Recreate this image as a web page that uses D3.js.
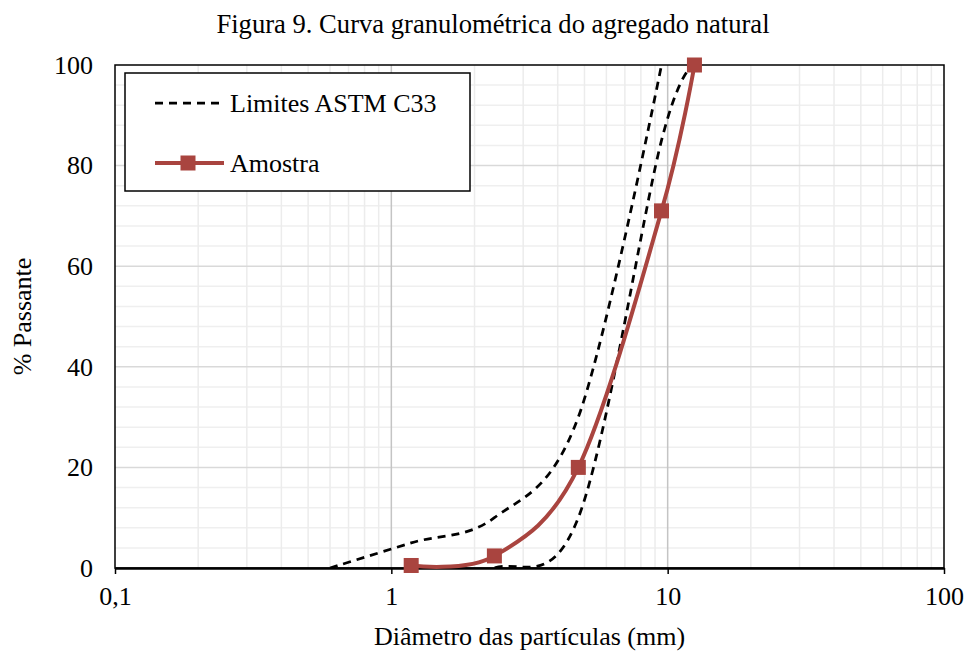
<!DOCTYPE html>
<html>
<head>
<meta charset="utf-8">
<script src="https://cdn.jsdelivr.net/npm/d3@7"></script>
<style>
  body { margin: 0; background: #fff; }
  text { font-family: "Liberation Serif", "Times New Roman", serif; }
</style>
</head>
<body>
<div id="chart"></div>
<script>
// sieve openings (mm) and % passing
const sample_sizes = [1.18, 2.36, 4.75, 9.5, 12.5]
const sample_values = [0.5, 2.4, 20, 71, 100]

// ASTM C33 limits (size no. 8)
const upper_sizes = [0.6, 1.18, 2.36, 4.75, 9.5]
const upper_values = [0, 5, 10, 30, 100]
const lower_sizes = [1.18, 2.36, 4.75, 9.5, 12.5]
const lower_values = [0, 0, 10, 85, 100]

const x_ticks = [0.1, 1, 10, 100]
const x_tick_labels = ['0,1', '1', '10', '100']
const y_ticks = [0, 20, 40, 60, 80, 100]

const chart_width = 966
const chart_height = 653
const p_left = 115, p_right = 944, p_top = 65, p_bottom = 568
const red = '#a9443f'
const font_size = 26
const marker = 15

const svg = d3.select('#chart')
    .append('svg')
    .attr('width', chart_width)
    .attr('height', chart_height)

svg.append('clipPath').attr('id', 'plot-clip')
    .append('rect')
    .attr('x', p_left).attr('y', p_top - 10)
    .attr('width', p_right - p_left).attr('height', p_bottom - p_top + 10)

const x_scale = d3.scaleLog().domain([0.1, 100]).range([p_left, p_right])
const y_scale = d3.scaleLinear().domain([0, 100]).range([p_bottom, p_top])

// grid - minor first
const minor_x = []
for (let d = 0.1; d < 100; d *= 10) {
    for (let k = 2; k <= 9; k++) minor_x.push(d * k)
}
svg.append('g').selectAll('line')
    .data(d3.range(4, 100, 4).filter(v => v % 20 !== 0))
    .enter().append('line')
    .attr('x1', p_left).attr('x2', p_right)
    .attr('y1', d => y_scale(d)).attr('y2', d => y_scale(d))
    .attr('stroke', '#efefef').attr('stroke-width', 1.5)
svg.append('g').selectAll('line')
    .data(minor_x)
    .enter().append('line')
    .attr('x1', d => x_scale(d)).attr('x2', d => x_scale(d))
    .attr('y1', p_top).attr('y2', p_bottom)
    .attr('stroke', '#ececec').attr('stroke-width', 1.5)
svg.append('g').selectAll('line')
    .data([20, 40, 60, 80])
    .enter().append('line')
    .attr('x1', p_left).attr('x2', p_right)
    .attr('y1', d => y_scale(d)).attr('y2', d => y_scale(d))
    .attr('stroke', '#d9d9d9').attr('stroke-width', 1.5)
svg.append('g').selectAll('line')
    .data([1, 10])
    .enter().append('line')
    .attr('x1', d => x_scale(d)).attr('x2', d => x_scale(d))
    .attr('y1', p_top).attr('y2', p_bottom)
    .attr('stroke', '#c4c4c4').attr('stroke-width', 1.5)

// plot border
svg.append('rect')
    .attr('x', p_left).attr('y', p_top)
    .attr('width', p_right - p_left).attr('height', p_bottom - p_top)
    .attr('fill', 'none').attr('stroke', '#000').attr('stroke-width', 1.5)

// lines
const line = d3.line()
    .x(d => x_scale(d[0]))
    .y(d => y_scale(d[1]))
    .curve(d3.curveCatmullRom.alpha(0))

const series = svg.append('g').attr('clip-path', 'url(#plot-clip)')
series.append('path')
    .datum(d3.zip(upper_sizes, upper_values))
    .attr('d', line)
    .attr('fill', 'none').attr('stroke', '#000')
    .attr('stroke-width', 2.75).attr('stroke-dasharray', '8,6')
series.append('path')
    .datum(d3.zip(lower_sizes, lower_values))
    .attr('d', line)
    .attr('fill', 'none').attr('stroke', '#000')
    .attr('stroke-width', 2.75).attr('stroke-dasharray', '8,6')

// axes
const x_axis = d3.axisBottom(x_scale)
    .tickValues(x_ticks)
    .tickFormat((d, i) => x_tick_labels[i])
    .tickSizeInner(6).tickSizeOuter(0).tickPadding(13)
const gx = svg.append('g')
    .attr('transform', 'translate(0,' + p_bottom + ')')
    .call(x_axis)
gx.select('.domain').attr('stroke', '#000').attr('stroke-width', 2.5)
gx.selectAll('.tick line').attr('stroke', '#000').attr('stroke-width', 1.5)
gx.selectAll('text').attr('font-size', font_size).attr('fill', '#000')

const y_axis = d3.axisLeft(y_scale)
    .tickValues(y_ticks)
    .tickSize(0).tickPadding(22)
const gy = svg.append('g')
    .attr('transform', 'translate(' + p_left + ',0)')
    .call(y_axis)
gy.select('.domain').remove()
gy.selectAll('text').attr('font-size', font_size).attr('fill', '#000')

const sample = d3.zip(sample_sizes, sample_values)
svg.append('path')
    .datum(sample)
    .attr('d', line)
    .attr('fill', 'none').attr('stroke', red)
    .attr('stroke-width', 4)
svg.append('g').selectAll('rect')
    .data(sample)
    .enter().append('rect')
    .attr('x', d => x_scale(d[0]) - marker / 2)
    .attr('y', d => y_scale(d[1]) - marker / 2)
    .attr('width', marker).attr('height', marker)
    .attr('fill', red)

// legend
const legend = svg.append('g')
legend.append('rect')
    .attr('x', 125).attr('y', 73).attr('width', 345).attr('height', 118)
    .attr('fill', '#fff').attr('stroke', '#000').attr('stroke-width', 1.5)
legend.append('line')
    .attr('x1', 155).attr('x2', 220).attr('y1', 103).attr('y2', 103)
    .attr('stroke', '#000').attr('stroke-width', 2.75).attr('stroke-dasharray', '8,6')
legend.append('text')
    .attr('x', 230).attr('y', 112).attr('font-size', font_size).text('Limites ASTM C33')
legend.append('line')
    .attr('x1', 155).attr('x2', 224).attr('y1', 163).attr('y2', 163)
    .attr('stroke', red).attr('stroke-width', 4)
legend.append('rect')
    .attr('x', 188 - marker / 2).attr('y', 163 - marker / 2)
    .attr('width', marker).attr('height', marker)
    .attr('fill', red)
legend.append('text')
    .attr('x', 230).attr('y', 172).attr('font-size', font_size).text('Amostra')

// titles
svg.append('text')
    .attr('x', 493).attr('y', 33).attr('text-anchor', 'middle')
    .attr('font-size', 26.6).text('Figura 9. Curva granulométrica do agregado natural')
svg.append('text')
    .attr('x', (p_left + p_right) / 2).attr('y', 645).attr('text-anchor', 'middle')
    .attr('font-size', font_size).text('Diâmetro das partículas (mm)')
svg.append('text')
    .attr('transform', 'translate(31,' + ((p_top + p_bottom) / 2) + ') rotate(-90)')
    .attr('text-anchor', 'middle')
    .attr('font-size', font_size).text('% Passante')
</script>
</body>
</html>
